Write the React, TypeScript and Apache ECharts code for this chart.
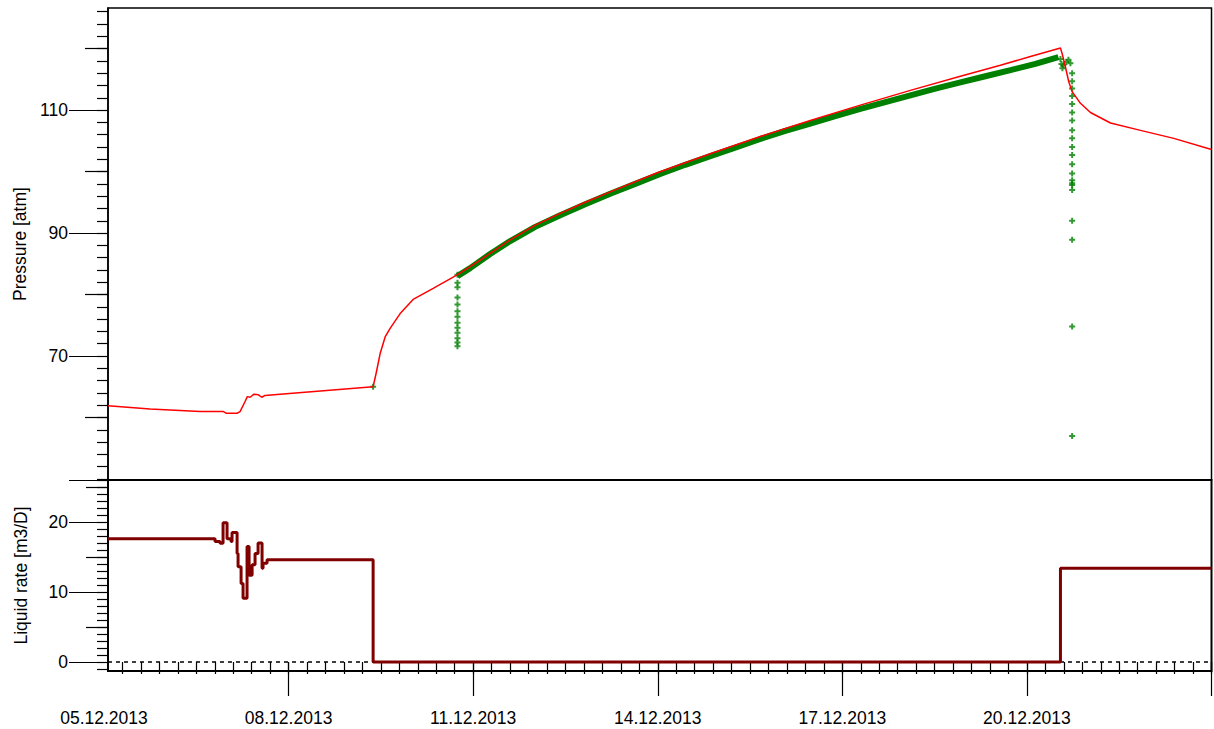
import React, { useEffect, useRef } from "react";
import * as echarts from "echarts";

// x values are days since 05.12.2013 00:00
const X_MIN = 0.065;
const X_MAX = 18;

const xTickLabels = ["05.12.2013", "08.12.2013", "11.12.2013", "14.12.2013", "17.12.2013", "20.12.2013", "23.12.2013"];
const xMajorTicks = [3, 6, 9, 12, 15, 18];
const xMinorStep = 0.3;

const pressureTicksMinorStep = 2;
const pressureTicksMedium = [60, 80, 100, 120];
const pressureTicksMajor = [70, 90, 110];
const rateTicksMedium = [5, 15, 25];
const rateTicksMajor = [0, 10, 20];

// Simulated pressure (red line) [day, atm]
const pressureModel: [number, number][] = [
  [0.065, 61.9], [0.748, 61.4], [1.561, 61.0], [1.935, 61.0], [1.984, 60.7], [2.163, 60.7],
  [2.211, 60.95], [2.293, 62.6], [2.33, 63.4], [2.374, 63.3], [2.439, 63.8], [2.509, 63.7],
  [2.564, 63.3], [2.618, 63.6], [2.862, 63.8], [4.374, 65.0], [4.423, 67.2], [4.488, 70.4],
  [4.569, 73.1], [4.65, 74.5], [4.813, 76.9], [5.024, 79.2], [5.35, 81.0], [5.74, 83.2],
  [6.114, 85.6], [6.602, 88.9], [7.008, 91.3], [7.415, 93.2], [7.821, 95.0], [8.228, 96.7],
  [8.992, 99.8], [9.854, 102.9], [10.667, 105.7], [11.48, 108.3], [12.293, 110.8],
  [13.106, 113.2], [13.919, 115.5], [14.569, 117.3], [15.057, 118.7], [15.545, 120.1],
  [15.572, 119.2], [15.626, 117.0], [15.68, 114.6], [15.735, 113.0], [15.87, 111.1],
  [16.033, 109.6], [16.358, 107.9], [16.846, 106.7], [17.387, 105.4], [18.0, 103.6],
];

// Measured pressure, dense build-up part [day, atm]
const pressureMeasuredCurve: [number, number][] = [
  [5.745, 83.0], [5.951, 84.3], [6.276, 86.6], [6.602, 88.7], [7.008, 91.0], [7.415, 92.9],
  [7.821, 94.7], [8.228, 96.4], [8.634, 98.0], [9.041, 99.6], [9.447, 101.1], [9.854, 102.5],
  [10.26, 103.9], [10.667, 105.3], [11.073, 106.6], [11.48, 107.8], [11.886, 109.0],
  [12.293, 110.2], [12.699, 111.3], [13.106, 112.4], [13.512, 113.5], [13.919, 114.5],
  [14.325, 115.5], [14.732, 116.5], [15.138, 117.5], [15.512, 118.6],
];

// Measured pressure, isolated points [day, atm]
const pressureMeasuredPoints: [number, number][] = [
  [4.374, 65.0],
  [5.745, 83.2], [5.745, 81.9], [5.745, 81.2], [5.745, 79.5], [5.745, 78.4], [5.745, 77.3],
  [5.745, 76.4], [5.745, 75.4], [5.745, 74.6], [5.745, 73.8], [5.745, 72.9], [5.745, 72.2],
  [5.745, 71.6],
  [15.545, 118.3], [15.561, 117.5], [15.577, 116.8], [15.593, 117.3], [15.642, 117.8],
  [15.675, 118.2], [15.707, 117.6],
  [15.735, 116.0], [15.735, 114.7], [15.735, 113.5], [15.735, 112.3], [15.735, 111.0],
  [15.735, 109.6], [15.735, 108.3], [15.735, 106.7], [15.735, 105.4], [15.735, 104.0],
  [15.735, 102.7], [15.735, 101.2], [15.735, 99.7], [15.735, 98.6], [15.735, 98.1],
  [15.735, 97.8], [15.735, 97.0], [15.735, 92.0], [15.735, 88.9], [15.735, 74.8],
  [15.735, 57.0],
];

// Liquid rate [day, m3/D], held until next point
const liquidRate: [number, number][] = [
  [0.065, 17.6], [1.805, 17.2], [1.886, 16.95], [1.935, 19.9], [2.0, 17.6], [2.065, 17.2],
  [2.081, 18.5], [2.163, 15.5], [2.179, 13.6], [2.228, 11.2], [2.26, 9.1], [2.325, 16.5],
  [2.358, 12.4], [2.407, 13.9], [2.455, 15.5], [2.504, 17.0], [2.569, 13.4], [2.585, 14.1],
  [2.65, 14.6], [4.374, 0], [15.545, 13.4], [18.0, 13.4],
];

const P_MIN = 49.84;
const P_MAX = 126.6;
const R_MIN = -1.286;
const R_MAX = 26;

const FONT = "Liberation Sans, Arial, sans-serif";
const FS = 17.5;

function range(a: number, b: number, step: number): number[] {
  const out: number[] = [];
  for (let v = a; v <= b + 1e-9; v += step) out.push(Math.round(v * 1000) / 1000);
  return out;
}

const PLUS = "path://M2,0H4V2H6V4H4V6H2V4H0V2H2Z";

export default function App() {
  const ref = useRef<HTMLDivElement>(null);
  useEffect(() => {
    if (!ref.current) return;
    const chart = echarts.init(ref.current, undefined, { renderer: "svg" });
    const black = "#000";
    const left = 108;
    const plotW = 1103.5;

    const yBase = (grid: number, min: number, max: number) => ({
      type: "value" as const,
      gridIndex: grid,
      position: "left" as const,
      min,
      max,
      splitLine: { show: false },
      axisLine: { show: false, lineStyle: { color: black, width: 1.5 } },
      axisLabel: { show: false },
    });
    const xBase = (grid: number, min: number, max: number) => ({
      type: "value" as const,
      gridIndex: grid,
      position: "bottom" as const,
      min,
      max,
      splitLine: { show: false },
      axisLine: { show: false },
      axisLabel: { show: false },
      axisTick: { show: false },
    });

    chart.setOption({
      animation: false,
      backgroundColor: "#fff",
      grid: [
        { left, top: 8, width: plotW, height: 472, show: true, borderColor: black, borderWidth: 1.5, backgroundColor: "transparent" },
        { left, top: 480, width: plotW, height: 191, show: true, borderColor: black, borderWidth: 2, backgroundColor: "transparent" },
        { left: 104, top: 480, width: plotW + 4, height: 191, show: false },
      ],
      xAxis: [
        { ...xBase(0, X_MIN, X_MAX) },
        {
          ...xBase(1, X_MIN, X_MAX),
          axisTick: { show: true, inside: false, length: 12, customValues: range(xMinorStep, X_MAX, xMinorStep), lineStyle: { color: black, width: 1.2 } },
        },
        {
          ...xBase(1, X_MIN, X_MAX),
          axisTick: { show: true, inside: false, length: 34, customValues: xMajorTicks, lineStyle: { color: black, width: 1.2 } },
        },
        {
          ...xBase(2, 0, X_MAX),
          interval: 3,
          axisLabel: {
            show: true,
            margin: 38,
            showMaxLabel: false,
            color: black,
            fontFamily: FONT,
            fontSize: FS,
            formatter: (v: number) => xTickLabels[Math.round(v / 3)] ?? "",
          },
        },
      ],
      yAxis: [
        {
          ...yBase(0, P_MIN, P_MAX),
          axisLine: { show: true, lineStyle: { color: black, width: 1.5 } },
          axisTick: { show: true, length: 11, customValues: range(50, 126, pressureTicksMinorStep), lineStyle: { color: black, width: 1.2 } },
        },
        {
          ...yBase(0, P_MIN, P_MAX),
          axisTick: { show: true, length: 23, customValues: pressureTicksMedium, lineStyle: { color: black, width: 1.2 } },
        },
        {
          ...yBase(0, P_MIN, P_MAX),
          axisTick: { show: true, length: 39, customValues: [...pressureTicksMajor, P_MIN], lineStyle: { color: black, width: 1.2 } },
          axisLabel: { show: true, margin: 40, customValues: pressureTicksMajor, color: black, fontFamily: FONT, fontSize: FS },
          name: "Pressure [atm]",
          nameLocation: "middle",
          nameGap: 78,
          nameTextStyle: { color: black, fontFamily: FONT, fontSize: FS },
        },
        {
          ...yBase(1, R_MIN, R_MAX),
          axisLine: { show: true, lineStyle: { color: black, width: 1.5 } },
          axisTick: { show: true, length: 11, customValues: range(-1, 26, 1), lineStyle: { color: black, width: 1.2 } },
        },
        {
          ...yBase(1, R_MIN, R_MAX),
          axisTick: { show: true, length: 22, customValues: rateTicksMedium, lineStyle: { color: black, width: 1.2 } },
        },
        {
          ...yBase(1, R_MIN, R_MAX),
          axisTick: { show: true, length: 39, customValues: [...rateTicksMajor, R_MAX], lineStyle: { color: black, width: 1.2 } },
          axisLabel: { show: true, margin: 40, customValues: rateTicksMajor, color: black, fontFamily: FONT, fontSize: FS },
          name: "Liquid rate [m3/D]",
          nameLocation: "middle",
          nameGap: 78,
          nameTextStyle: { color: black, fontFamily: FONT, fontSize: FS },
        },
        { type: "value", gridIndex: 2, min: 0, max: 1, show: false },
      ],
      series: [
        {
          type: "line",
          name: "measured",
          xAxisIndex: 0,
          yAxisIndex: 0,
          data: pressureMeasuredCurve,
          showSymbol: false,
          symbol: "none",
          lineStyle: { color: "#008000", width: 6 },
          z: 2,
        },
        {
          type: "scatter",
          name: "measured points",
          xAxisIndex: 0,
          yAxisIndex: 0,
          data: pressureMeasuredPoints,
          symbol: PLUS,
          symbolSize: 6,
          itemStyle: { color: "#008000" },
          z: 2,
        },
        {
          type: "line",
          name: "model",
          xAxisIndex: 0,
          yAxisIndex: 0,
          data: pressureModel,
          symbol: "none",
          lineStyle: { color: "#ff0000", width: 1.5 },
          z: 3,
        },
        {
          type: "line",
          name: "liquid rate",
          xAxisIndex: 1,
          yAxisIndex: 3,
          data: liquidRate,
          step: "end",
          symbol: "none",
          lineStyle: { color: "#800000", width: 3 },
          z: 3,
          markLine: {
            silent: true,
            symbol: "none",
            label: { show: false },
            lineStyle: { color: black, type: [4, 4], width: 1.5 },
            data: [{ yAxis: 0 }],
            z: 2,
          },
        },
      ],
    });
    return () => chart.dispose();
  }, []);
  return <div ref={ref} style={{ position: "fixed", left: 0, top: 0, width: 1214, height: 729 }} />;
}
